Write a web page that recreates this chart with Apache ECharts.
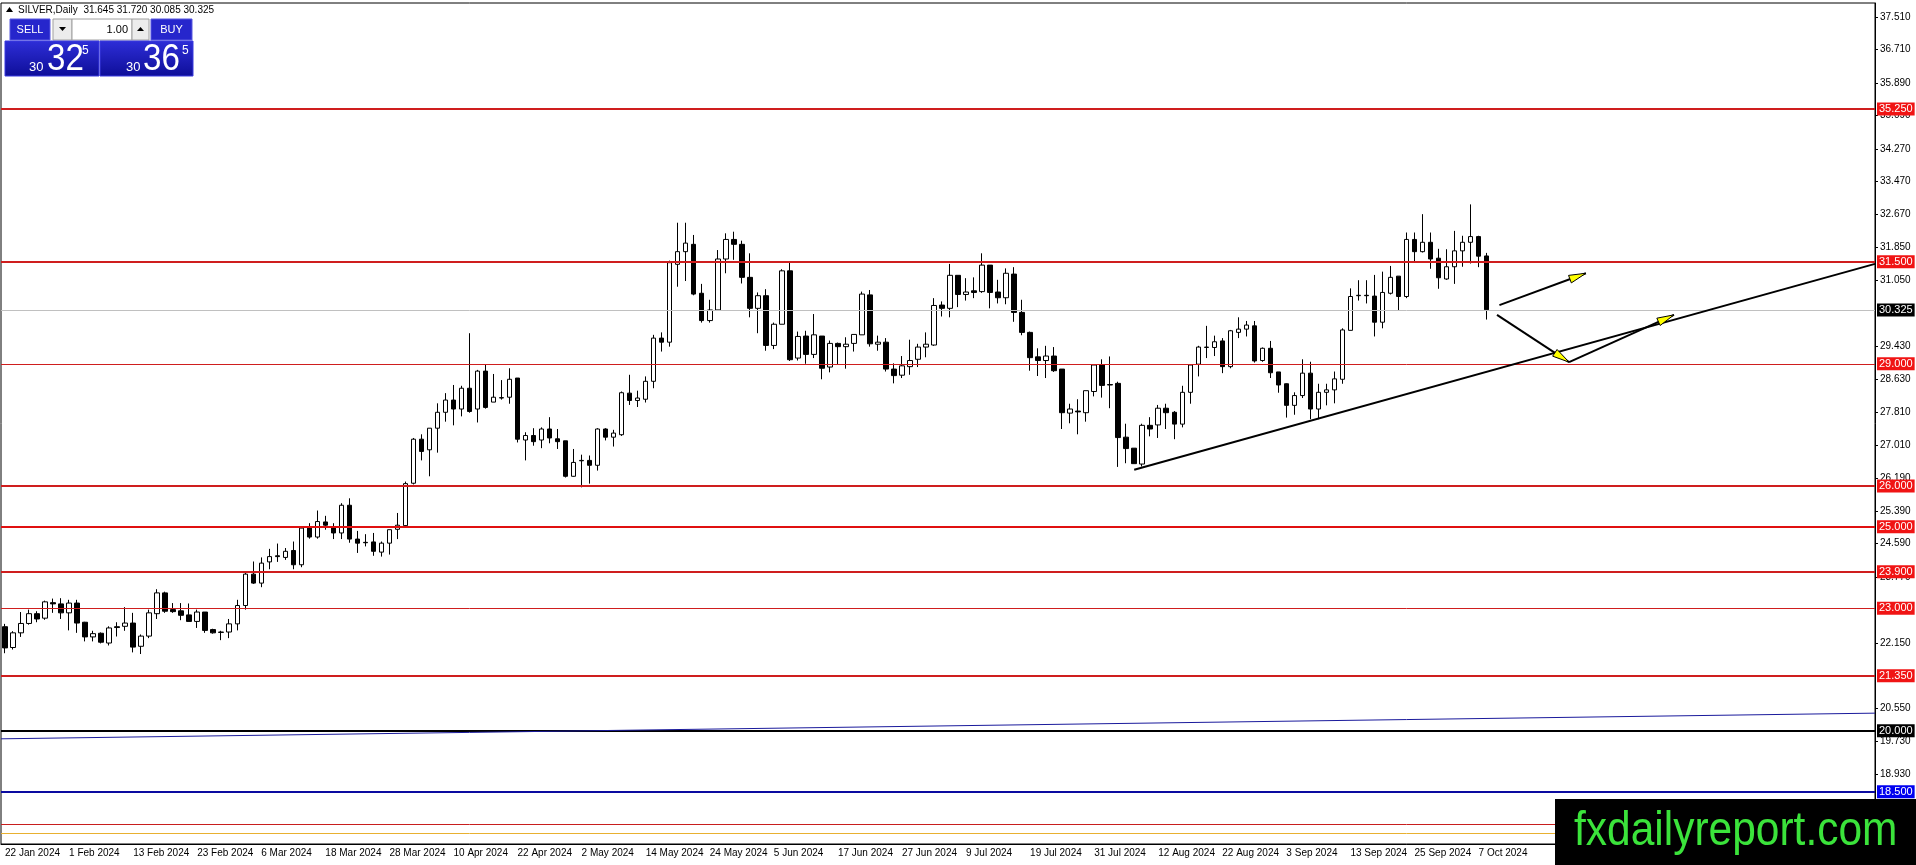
<!DOCTYPE html>
<html>
<head>
<meta charset="utf-8">
<title>SILVER,Daily</title>
<script src="https://cdn.jsdelivr.net/npm/echarts@6/dist/echarts.min.js"></script>
<style>
  html, body { margin: 0; padding: 0; background: #fff; }
  #chart { width: 1916px; height: 865px; }
</style>
</head>
<body>
<div id="chart"></div>
<script>
const FONT = "'Liberation Sans', Arial, sans-serif"

// daily bars, 22 Jan 2024 .. 8 Oct 2024
const opens = [
  22.55, 22.04, 22.40, 22.63, 22.87, 22.76, 23.14, 23.11, 22.89, 23.13,
  22.66, 22.30, 22.39, 22.15, 22.55, 22.56, 22.64, 22.07, 22.32, 22.87,
  23.38, 22.97, 22.94, 22.84, 22.68, 22.91, 22.48, 22.41, 22.42, 22.62,
  23.07, 23.84, 23.62, 24.14, 24.29, 24.25, 24.42, 24.07, 24.97, 24.75,
  25.12, 24.99, 24.85, 25.53, 24.70, 24.62, 24.63, 24.38, 24.60, 24.94,
  25.03, 26.07, 27.15, 26.89, 27.42, 27.81, 28.11, 27.89, 28.40, 27.89,
  28.82, 28.06, 28.16, 28.18, 28.65, 27.13, 27.24, 27.13, 27.40, 27.16,
  27.11, 26.24, 26.63, 26.63, 26.51, 27.40, 27.20, 27.26, 28.28, 28.10,
  28.13, 28.57, 29.63, 29.53, 31.44, 31.75, 31.93, 30.73, 30.06, 30.32,
  31.57, 32.05, 31.93, 31.12, 30.36, 30.67, 29.45, 29.97, 31.28, 29.14,
  29.68, 29.23, 29.68, 28.92, 29.50, 29.42, 29.50, 29.71, 30.69, 29.48,
  29.53, 28.87, 28.72, 28.93, 29.11, 29.41, 29.46, 30.44, 30.36, 31.17,
  30.70, 30.79, 30.77, 31.42, 30.76, 30.62, 31.20, 30.26, 29.77, 29.17,
  29.08, 29.19, 28.87, 27.79, 27.84, 27.80, 28.32, 28.97, 28.49, 28.52,
  27.20, 26.93, 26.54, 27.49, 27.50, 27.91, 27.81, 27.52, 28.30, 28.99,
  29.40, 29.40, 29.56, 28.93, 29.77, 29.85, 29.93, 29.08, 29.38, 28.80,
  28.51, 27.98, 28.22, 28.77, 27.89, 28.30, 28.36, 28.62, 29.82, 30.67,
  30.68, 30.66, 30.02, 30.73, 31.15, 30.65, 32.05, 31.75, 31.98, 31.59,
  31.08, 31.38, 31.77, 31.98, 32.12, 31.645
]
const highs = [
  22.62, 22.44, 22.91, 22.97, 22.93, 23.19, 23.24, 23.25, 23.21, 23.21,
  22.67, 22.45, 22.41, 22.56, 22.66, 23.03, 22.89, 22.36, 22.97, 23.47,
  23.41, 23.13, 23.13, 23.12, 22.97, 22.91, 22.50, 22.45, 22.74, 23.21,
  23.87, 24.15, 24.25, 24.46, 24.59, 24.48, 24.64, 24.99, 25.09, 25.40,
  25.27, 25.09, 25.58, 25.70, 24.90, 24.82, 24.85, 24.64, 24.93, 25.34,
  26.11, 27.18, 27.27, 27.42, 28.03, 28.28, 28.48, 28.46, 29.75, 28.85,
  28.97, 28.75, 28.60, 28.89, 28.65, 27.32, 27.42, 27.44, 27.69, 27.40,
  27.11, 26.91, 26.77, 26.75, 27.42, 27.42, 27.38, 28.32, 28.73, 28.34,
  28.69, 29.71, 29.77, 31.53, 32.46, 32.46, 32.16, 30.96, 30.57, 31.79,
  32.20, 32.24, 32.02, 31.71, 30.75, 30.83, 30.01, 31.32, 31.51, 29.79,
  29.81, 30.22, 29.68, 29.57, 29.52, 29.65, 29.72, 30.77, 30.81, 29.69,
  29.63, 29.01, 29.19, 29.59, 29.49, 29.77, 30.61, 30.53, 31.45, 31.17,
  31.10, 31.12, 31.71, 31.42, 31.06, 31.34, 31.37, 30.57, 29.79, 29.38,
  29.44, 29.41, 28.87, 28.02, 28.13, 28.34, 28.97, 29.11, 29.18, 28.56,
  27.53, 26.93, 27.53, 27.69, 27.99, 28.02, 27.84, 28.46, 28.97, 29.44,
  29.93, 29.69, 29.63, 29.83, 30.14, 30.05, 30.05, 29.40, 29.56, 28.80,
  28.52, 28.30, 29.11, 29.05, 28.51, 28.51, 28.81, 29.87, 30.85, 31.05,
  31.05, 31.18, 31.26, 31.40, 31.15, 32.22, 32.22, 32.67, 32.22, 31.82,
  31.81, 32.26, 32.14, 32.91, 32.14, 31.72
]
const lows = [
  21.90, 21.99, 22.30, 22.60, 22.66, 22.72, 22.89, 22.74, 22.46, 22.40,
  22.19, 22.19, 22.14, 22.09, 22.31, 22.45, 21.92, 21.88, 22.27, 22.74,
  22.89, 22.89, 22.71, 22.68, 22.52, 22.40, 22.38, 22.22, 22.27, 22.46,
  22.97, 23.60, 23.52, 23.96, 24.14, 24.19, 23.96, 24.01, 24.71, 24.71,
  24.93, 24.70, 24.70, 24.61, 24.36, 24.52, 24.29, 24.27, 24.32, 24.70,
  25.02, 26.04, 26.63, 26.24, 26.82, 27.58, 27.49, 27.71, 27.80, 27.56,
  27.90, 28.06, 28.12, 28.02, 27.07, 26.63, 26.99, 26.93, 27.05, 26.91,
  26.21, 26.23, 25.97, 26.06, 26.38, 27.12, 26.97, 27.23, 27.99, 27.94,
  28.05, 28.40, 29.30, 29.42, 30.89, 31.03, 30.68, 30.01, 30.01, 30.32,
  31.22, 31.55, 30.97, 30.14, 29.75, 29.32, 29.36, 29.97, 29.07, 29.08,
  29.00, 29.14, 28.62, 28.79, 28.99, 28.88, 29.30, 29.71, 29.42, 29.32,
  28.81, 28.52, 28.65, 28.73, 28.92, 29.16, 29.44, 30.16, 30.14, 30.39,
  30.55, 30.61, 30.74, 30.36, 30.48, 30.46, 30.03, 29.70, 28.83, 28.70,
  28.65, 28.80, 27.40, 27.54, 27.27, 27.58, 28.20, 28.17, 27.91, 26.47,
  26.56, 26.55, 26.48, 27.22, 27.18, 27.40, 27.15, 27.44, 28.02, 28.69,
  29.14, 29.19, 28.77, 28.89, 29.63, 29.67, 29.03, 29.05, 28.65, 28.29,
  27.68, 27.75, 28.16, 27.64, 27.64, 27.98, 28.03, 28.51, 29.82, 30.55,
  30.48, 29.67, 29.87, 30.70, 30.30, 30.61, 31.52, 31.73, 31.33, 30.84,
  31.06, 30.96, 31.38, 31.46, 31.37, 30.085
]
const closes = [
  22.03, 22.40, 22.63, 22.87, 22.74, 23.16, 23.11, 22.89, 23.13, 22.64,
  22.30, 22.38, 22.17, 22.52, 22.53, 22.64, 22.05, 22.32, 22.89, 23.38,
  22.93, 22.92, 22.83, 22.68, 22.91, 22.46, 22.40, 22.42, 22.62, 23.07,
  23.84, 23.62, 24.11, 24.27, 24.27, 24.40, 24.07, 24.97, 24.75, 25.13,
  25.04, 24.85, 25.53, 24.70, 24.60, 24.61, 24.40, 24.60, 24.93, 25.04,
  26.06, 27.15, 26.85, 27.42, 27.81, 28.11, 27.89, 28.40, 27.83, 28.82,
  27.93, 28.18, 28.17, 28.62, 27.15, 27.24, 27.09, 27.40, 27.18, 27.09,
  26.24, 26.58, 26.62, 26.51, 27.40, 27.20, 27.30, 28.29, 28.10, 28.16,
  28.57, 29.63, 29.53, 31.48, 31.75, 31.96, 30.71, 30.06, 30.32, 31.57,
  32.05, 31.93, 31.12, 30.36, 30.67, 29.45, 29.97, 31.28, 29.10, 29.67,
  29.23, 29.71, 28.89, 29.50, 29.42, 29.48, 29.72, 30.71, 29.49, 29.53,
  28.87, 28.71, 28.95, 29.08, 29.41, 29.48, 30.43, 30.36, 31.17, 30.70,
  30.76, 30.75, 31.42, 30.75, 30.62, 31.22, 30.26, 29.77, 29.15, 29.08,
  29.19, 28.83, 27.80, 27.89, 27.82, 28.34, 28.97, 28.47, 28.48, 27.19,
  26.92, 26.55, 27.49, 27.40, 27.91, 27.80, 27.52, 28.30, 28.97, 29.41,
  29.41, 29.54, 28.93, 29.81, 29.85, 29.95, 29.07, 29.38, 28.78, 28.48,
  27.98, 28.22, 28.77, 27.89, 28.30, 28.36, 28.63, 29.83, 30.65, 30.68,
  30.67, 30.02, 30.75, 31.12, 30.65, 32.05, 31.75, 31.98, 31.57, 31.11,
  31.38, 31.77, 31.98, 32.12, 31.64, 30.325
]

// one label every 8 bars
const xLabels = [
  '22 Jan 2024', '1 Feb 2024', '13 Feb 2024', '23 Feb 2024', '6 Mar 2024', '18 Mar 2024',
  '28 Mar 2024', '10 Apr 2024', '22 Apr 2024', '2 May 2024', '14 May 2024', '24 May 2024',
  '5 Jun 2024', '17 Jun 2024', '27 Jun 2024', '9 Jul 2024', '19 Jul 2024', '31 Jul 2024',
  '12 Aug 2024', '22 Aug 2024', '3 Sep 2024', '13 Sep 2024', '25 Sep 2024', '7 Oct 2024'
]
const yTicks = [
  37.51, 36.71, 35.89, 35.09, 34.27, 33.47, 32.67, 31.85, 31.05, 29.43, 28.63, 27.81,
  27.01, 26.19, 25.39, 24.59, 23.77, 22.15, 20.55, 19.73, 18.93
]

// horizontal levels
const redLevels = [35.25, 31.5, 29.0, 26.0, 25.0, 23.9, 23.0, 21.35]
const redWidths = [2, 2, 1, 2, 2, 2, 1, 2]
const blackLevel = 20.0
const blueLevel = 18.5
const bottomLevels = [17.71, 17.49]

// drawn objects: [x1, y1, x2, y2] in bar index / price
const trendLine = [141, 26.40, 233.5, 31.45]
const blueSlope = [-0.5, 19.80, 233.5, 20.43]
const arrows = [
  [186.6, 30.44, 197.4, 31.22],
  [186.3, 30.20, 195.3, 29.04],
  [195.3, 29.04, 208.4, 30.20]
]

const SLOTS = 234
const cats = []
for (let i = 0; i < SLOTS; i++) cats.push(String(i))
const candles = opens.map((o, i) => [o, closes[i], lows[i], highs[i]])
const lastBar = opens.length - 1
const lastPrice = closes[lastBar]

function showTick(idx) {
  return idx % 8 === 0 && idx / 8 < xLabels.length
}

function levelLine(value, color, width, labelBg) {
  return {
    yAxis: value,
    lineStyle: { color, width, type: 'solid' },
    label: labelBg ? {
      show: true,
      position: 'end',
      distance: 2,
      formatter: value.toFixed(3),
      backgroundColor: labelBg,
      color: '#fff',
      fontSize: 11,
      fontFamily: FONT,
      lineHeight: 12,
      padding: [1, 2, 0, 2]
    } : { show: false }
  }
}

const levelData = redLevels.map((v, i) => levelLine(v, i === 4 ? '#e01010' : '#cf1e1e', redWidths[i], '#f01414'))
levelData.push(levelLine(lastPrice, '#c0c0c0', 1, '#000'))
levelData.push(levelLine(blackLevel, '#000', 2, '#000'))
levelData.push(levelLine(blueLevel, '#0a0aa0', 2, '#0000f0'))
levelData.push(levelLine(bottomLevels[0], '#c81e1e', 1, null))
levelData.push(levelLine(bottomLevels[1], '#e8b030', 1, null))

function renderSegment(params, api) {
  const p1 = api.coord([api.value(0), api.value(1)])
  const p2 = api.coord([api.value(2), api.value(3)])
  const kind = api.value(4)
  const children = [{
    type: 'line',
    shape: { x1: p1[0], y1: p1[1], x2: p2[0], y2: p2[1] },
    style: { stroke: kind === 2 ? '#1a1a9c' : '#000', lineWidth: kind === 2 ? 1 : 2 }
  }]
  if (kind === 1) {
    const ang = Math.atan2(p2[1] - p1[1], p2[0] - p1[0])
    const len = 17
    const half = 4
    const bx = p2[0] - len * Math.cos(ang)
    const by = p2[1] - len * Math.sin(ang)
    const nx = -Math.sin(ang) * half
    const ny = Math.cos(ang) * half
    children.push({
      type: 'polygon',
      shape: { points: [[p2[0], p2[1]], [bx + nx, by + ny], [bx - nx, by - ny]] },
      style: { fill: '#ffff00', stroke: '#000', lineWidth: 1 }
    })
  }
  return { type: 'group', children }
}

const segments = [blueSlope.concat(2), trendLine.concat(0)].concat(arrows.map(a => a.concat(1)))

function rect(x, y, w, h, fill, stroke) {
  return { type: 'rect', shape: { x, y, width: w, height: h }, style: { fill, stroke: stroke || null, lineWidth: 1 }, z: 50, silent: true }
}
function text(x, y, str, size, fill, extra, align) {
  return Object.assign({
    type: 'text', x, y, z: 51, silent: true,
    style: { text: str, fill, font: size + 'px ' + FONT, verticalAlign: 'middle', align: align || 'left' }
  }, extra || {})
}

const blueGrad = { type: 'linear', x: 0, y: 0, x2: 0, y2: 1, colorStops: [{ offset: 0, color: '#2e2ed8' }, { offset: 1, color: '#0e0e98' }] }
const titleText = 'SILVER,Daily  ' + [opens[lastBar], highs[lastBar], lows[lastBar], closes[lastBar]].map(v => v.toFixed(3)).join(' ')

const graphics = [
  { type: 'polygon', shape: { points: [[6, 12], [9.5, 7], [13, 12]] }, style: { fill: '#000' }, z: 51, silent: true },
  text(18, 10, titleText, 10, '#000'),
  rect(10, 19, 40, 21, '#2626cc', '#5858e0'),
  text(30, 29.5, 'SELL', 11, '#fff', null, 'center'),
  rect(53, 19, 19, 21, '#ececec', '#a0a0a0'),
  { type: 'polygon', shape: { points: [[59, 27], [66, 27], [62.5, 31]] }, style: { fill: '#000' }, z: 51, silent: true },
  rect(72, 19, 60, 21, '#fff', '#a0a0a0'),
  text(128, 29.5, '1.00', 11, '#000', null, 'right'),
  rect(132, 19, 17, 21, '#ececec', '#a0a0a0'),
  { type: 'polygon', shape: { points: [[137, 31], [144, 31], [140.5, 27]] }, style: { fill: '#000' }, z: 51, silent: true },
  rect(151, 19, 41, 21, '#2626cc', '#5858e0'),
  text(171.5, 29.5, 'BUY', 11, '#fff', null, 'center'),
  rect(5, 41, 94, 35, blueGrad, '#3a3ae0'),
  rect(100, 41, 93, 35, blueGrad, '#3a3ae0'),
  text(29, 67, '30', 13, '#fff'),
  text(47, 60, '32', 36, '#fff', { scaleX: 0.92 }),
  text(82, 51, '5', 12, '#fff'),
  text(126, 67, '30', 13, '#fff'),
  text(143, 60, '36', 36, '#fff', { scaleX: 0.92 }),
  text(182, 51, '5', 12, '#fff'),
  // watermark
  { type: 'rect', shape: { x: 1555, y: 799, width: 361, height: 66 }, style: { fill: '#000' }, z: 100, silent: true },
  { type: 'text', x: 1574, y: 832, scaleX: 0.885, z: 101, silent: true,
    style: { text: 'fxdailyreport.com', fill: '#3be33b', font: '48px ' + FONT, verticalAlign: 'middle', align: 'left' } }
]

const chart = echarts.init(document.getElementById('chart'), null, { renderer: 'canvas' })

chart.setOption({
  animation: false,
  backgroundColor: '#fff',
  grid: { left: 1, top: 3, right: 41, bottom: 21, show: true, borderColor: '#000', borderWidth: 1, backgroundColor: '#fff' },
  xAxis: [
    {
      type: 'category',
      data: cats,
      boundaryGap: true,
      axisLine: { onZero: false, lineStyle: { color: '#000', width: 1 } },
      axisTick: { alignWithLabel: true, interval: showTick, length: 4, lineStyle: { color: '#000' } },
      axisLabel: {
        interval: showTick,
        formatter: (v, idx) => xLabels[idx / 8] || '',
        align: 'left',
        margin: 4,
        color: '#000',
        fontSize: 10,
        fontFamily: FONT
      },
      splitLine: { show: false }
    },
    { type: 'value', min: -0.5, max: SLOTS - 0.5, show: false, axisLine: { onZero: false } }
  ],
  yAxis: {
    type: 'value',
    position: 'right',
    min: 17.22,
    max: 37.85,
    splitLine: { show: false },
    axisLine: { show: true, onZero: false, lineStyle: { color: '#000', width: 1 } },
    axisTick: { show: true, length: 3, customValues: yTicks, lineStyle: { color: '#000' } },
    axisLabel: {
      customValues: yTicks,
      formatter: v => v.toFixed(3),
      margin: 5,
      color: '#000',
      fontSize: 10,
      fontFamily: FONT
    }
  },
  series: [
    {
      type: 'candlestick',
      data: candles,
      barWidth: 5,
      itemStyle: { color: '#fff', color0: '#000', borderColor: '#000', borderColor0: '#000', borderWidth: 1 },
      emphasis: { disabled: true },
      markLine: {
        symbol: ['none', 'none'],
        silent: true,
        animation: false,
        emphasis: { disabled: true },
        data: levelData
      }
    },
    {
      type: 'custom',
      xAxisIndex: 1,
      yAxisIndex: 0,
      renderItem: renderSegment,
      encode: { x: [0, 2], y: [1, 3] },
      data: segments,
      silent: true,
      z: 5
    }
  ],
  graphic: graphics
})
</script>
</body>
</html>
